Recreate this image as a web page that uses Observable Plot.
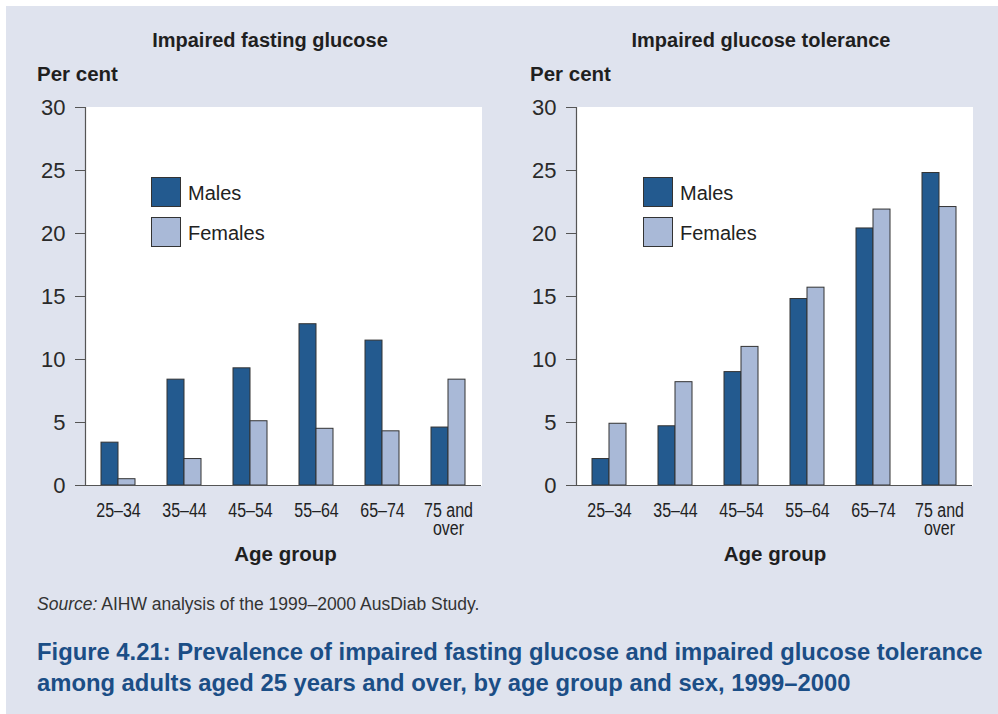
<!DOCTYPE html>
<html>
<head>
<meta charset="utf-8">
<script src="https://cdn.jsdelivr.net/npm/d3@7"></script>
<script src="https://cdn.jsdelivr.net/npm/@observablehq/plot@0.6"></script>
<style>
  html, body { margin: 0; padding: 0; background: #ffffff; }
  body { width: 998px; height: 714px; position: relative; overflow: hidden; font-family: "Liberation Sans", Arial, Helvetica, sans-serif; }
  #bg { position: absolute; left: 6px; top: 6px; width: 992px; height: 708px; background: #dfe3ee; }
  .abs { position: absolute; white-space: nowrap; }
  .title { font-weight: bold; font-size: 20px; color: #1f1f1f; text-align: center; line-height: 22px; }
  .ylab { font-weight: bold; font-size: 20.5px; color: #1f1f1f; line-height: 22px; }
  .xlab { font-weight: bold; font-size: 20.5px; color: #1f1f1f; text-align: center; line-height: 22px; }
  .chart { position: absolute; top: 90px; }
  .legend { position: absolute; font-size: 20px; color: #222; }
  .legend .row { position: relative; height: 40px; }
  .legend .sw { position: absolute; left: 0; top: 0; width: 30px; height: 30px; box-sizing: border-box; border: 1.5px solid #333; }
  .legend .lb { position: absolute; left: 37px; top: 5px; line-height: 22px; }
  .source { font-size: 17.5px; color: #333; line-height: 18px; }
  .caption { font-weight: bold; font-size: 23.8px; color: #1b4e86; line-height: 31px; }
</style>
</head>
<body>
<div id="bg"></div>
<div id="root"></div>
<script>
// ---- data ----
const ages = ["25–34", "35–44", "45–54", "55–64", "65–74", "75 and over"];
const ageTickLabels = ["25–34", "35–44", "45–54", "55–64", "65–74", "75 and\nover"];
const sexes = ["Males", "Females"];
const sexColors = ["#235a8f", "#a9b9d7"];
const ifgMales = [3.4, 8.4, 9.3, 12.8, 11.5, 4.6];
const ifgFemales = [0.5, 2.1, 5.1, 4.5, 4.3, 8.4];
const igtMales = [2.1, 4.7, 9.0, 14.8, 20.4, 24.8];
const igtFemales = [4.9, 8.2, 11.0, 15.7, 21.9, 22.1];
const yTicks = [0, 5, 10, 15, 20, 25, 30];
const panelTitles = ["Impaired fasting glucose", "Impaired glucose tolerance"];
const yLabel = "Per cent";
const xLabel = "Age group";

const root = document.getElementById("root");

function makeChart(males, females) {
  const data = ages.flatMap((a, i) => [
    {age: a, sex: sexes[0], value: males[i]},
    {age: a, sex: sexes[1], value: females[i]}
  ]);
  const svg = Plot.plot({
    width: 495,
    height: 465,
    marginLeft: 83,
    marginRight: 13,
    marginTop: 17,
    marginBottom: 70,
    style: {background: "transparent", color: "#222", fontFamily: "'Liberation Sans', Arial, sans-serif", overflow: "visible"},
    fx: {domain: ages, padding: 0, label: null},
    x: {domain: sexes, paddingInner: 0, paddingOuter: 0.92, axis: null},
    y: {domain: [0, 30], label: null},
    color: {domain: sexes, range: sexColors},
    marks: [
      Plot.frame({fill: "white", stroke: "white", strokeWidth: 1}),
      Plot.barY(data, {fx: "age", x: "sex", y: "value", fill: "sex", stroke: "#333", strokeWidth: 1}),
      Plot.ruleY([0], {stroke: "#555", strokeWidth: 1.2}),
      Plot.frame({anchor: "left", facetAnchor: "left", stroke: "#555", strokeWidth: 1.2}),
      Plot.axisY(yTicks, {tickSize: 10, tickPadding: 10, fontSize: 22, label: null, stroke: "#555", fill: "#2a2a2a"}),
      Plot.axisFx({anchor: "bottom", tickSize: 0, tickPadding: 19, fontSize: 19.5, lineHeight: 0.92, label: null, fill: "#222",
        tickFormat: d => ageTickLabels[ages.indexOf(d)]})
    ]
  });
  // condense the age-group tick labels horizontally (narrow typeface look)
  svg.querySelectorAll('[aria-label="fx-axis tick label"] text').forEach(el => {
    const t = el.getAttribute("transform") || "";
    const x = +el.getAttribute("x") || 0;
    el.setAttribute("transform", `${t} translate(${x},0) scale(0.82,1) translate(${-x},0)`);
  });
  return svg;
}

function addDiv(cls, text, style) {
  const d = document.createElement("div");
  d.className = cls;
  if (text != null) d.textContent = text;
  Object.assign(d.style, style);
  root.appendChild(d);
  return d;
}

const panels = [
  {left: 0, males: ifgMales, females: ifgFemales, titleCenter: 270, yLabLeft: 37, legendLeft: 151, xLabCenter: 285.5},
  {left: 491, males: igtMales, females: igtFemales, titleCenter: 761, yLabLeft: 530, legendLeft: 643, xLabCenter: 775}
];

panels.forEach((p, k) => {
  const wrap = addDiv("chart", null, {left: p.left + "px"});
  wrap.appendChild(makeChart(p.males, p.females));
  addDiv("abs title", panelTitles[k], {left: (p.titleCenter - 270) + "px", width: "540px", top: "29px"});
  addDiv("abs ylab", yLabel, {left: p.yLabLeft + "px", top: "63px"});
  addDiv("abs xlab", xLabel, {left: (p.xLabCenter - 200) + "px", width: "400px", top: "543px"});
  const lg = addDiv("legend", null, {left: p.legendLeft + "px", top: "177px"});
  sexes.forEach((s, i) => {
    const row = document.createElement("div");
    row.className = "row";
    const sw = document.createElement("div");
    sw.className = "sw";
    sw.style.background = sexColors[i];
    const lb = document.createElement("div");
    lb.className = "lb";
    lb.textContent = s;
    row.appendChild(sw);
    row.appendChild(lb);
    lg.appendChild(row);
  });
});

const src = addDiv("abs source", null, {left: "37px", top: "595px"});
src.innerHTML = "<i>Source:</i> AIHW analysis of the 1999–2000 AusDiab Study.";
const cap = addDiv("abs caption", null, {left: "37px", top: "636px"});
cap.innerHTML = "Figure 4.21: Prevalence of impaired fasting glucose and impaired glucose tolerance<br>among adults aged 25 years and over, by age group and sex, 1999–2000";
</script>
</body>
</html>
